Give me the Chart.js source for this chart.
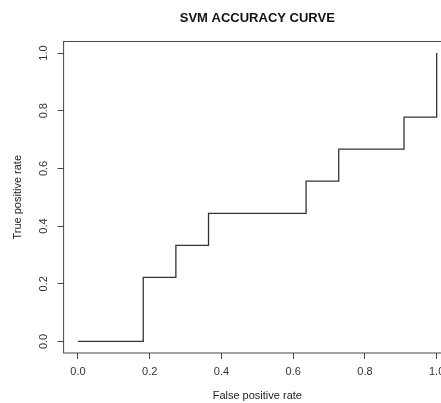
<!DOCTYPE html>
<html>
<head>
<meta charset="utf-8">
<script src="https://cdn.jsdelivr.net/npm/chart.js@4"></script>
<style>
    html, body { margin: 0; padding: 0; background: #fff; overflow: hidden; }
    canvas { display: block; }
</style>
</head>
<body>
<canvas id="miGrafica" width="514" height="403"></canvas>
<script>
// puntos de la curva ROC
const fpr = [0, 0.182, 0.273, 0.364, 0.636, 0.727, 0.909, 1.0];
const tpr = [0, 0.222, 0.333, 0.444, 0.556, 0.667, 0.778, 1.0];
const tickVals = [0, 0.2, 0.4, 0.6, 0.8, 1.0];

const titulo = 'SVM ACCURACY CURVE';
const xTitulo = 'False positive rate';
const yTitulo = 'True positive rate';

const fuente = "'Liberation Sans', Arial, sans-serif";

// caja del grafico, titulo y etiquetas del eje y giradas (estilo R)
const marco = {
    id: 'marco',
    afterDraw(chart) {
        const ctx = chart.ctx;
        const area = chart.chartArea;
        ctx.save();
        ctx.strokeStyle = '#444';
        ctx.lineWidth = 1;
        ctx.strokeRect(area.left, area.top, area.right - area.left, area.bottom - area.top);

        ctx.fillStyle = '#111';
        ctx.font = 'bold 13px ' + fuente;
        ctx.textAlign = 'center';
        ctx.textBaseline = 'alphabetic';
        ctx.fillText(titulo, (area.left + area.right) / 2, 22);

        const y = chart.scales.y;
        ctx.fillStyle = '#333';
        ctx.font = '11px ' + fuente;
        tickVals.forEach(v => {
            ctx.save();
            ctx.translate(46.5, y.getPixelForValue(v));
            ctx.rotate(-Math.PI / 2);
            ctx.fillText(v.toFixed(1), 0, 0);
            ctx.restore();
        });
        ctx.restore();
    }
};

const ctx = document.getElementById('miGrafica').getContext('2d');

window.myChart = new Chart(ctx, {
    type: 'line',
    data: {
        datasets: [{
            label: 'SVM',
            data: fpr.map((x, i) => ({ x: x, y: tpr[i] })),
            borderColor: '#333',
            borderWidth: 1.3,
            pointRadius: 0,
            stepped: true,
            fill: false,
        }],
    },
    options: {
        responsive: false,
        animation: false,
        layout: {
            padding: { left: 0, top: 41.5, right: 63, bottom: 0 },
        },
        plugins: {
            legend: { display: false },
            title: { display: false },
            tooltip: { enabled: false },
        },
        scales: {
            x: {
                type: 'linear',
                min: -0.04,
                max: 1.04,
                afterBuildTicks: (scale) => { scale.ticks = tickVals.map(v => ({ value: v })); },
                afterFit: (scale) => { scale.height = 50; },
                border: { display: false },
                grid: { drawOnChartArea: false, drawTicks: true, tickLength: 6, color: '#444' },
                ticks: {
                    autoSkip: false,
                    maxRotation: 0,
                    padding: 6,
                    color: '#333',
                    font: { family: fuente, size: 11 },
                    callback: (v) => Number(v).toFixed(1),
                },
                title: {
                    display: true,
                    text: xTitulo,
                    color: '#222',
                    font: { family: fuente, size: 11 },
                    padding: { top: 0, bottom: 0 },
                },
            },
            y: {
                type: 'linear',
                min: -0.04,
                max: 1.04,
                afterBuildTicks: (scale) => { scale.ticks = tickVals.map(v => ({ value: v })); },
                afterFit: (scale) => { scale.width = 63.6; },
                border: { display: false },
                grid: { drawOnChartArea: false, drawTicks: true, tickLength: 6, color: '#444' },
                ticks: { display: false },
                title: {
                    display: true,
                    text: yTitulo,
                    color: '#222',
                    font: { family: fuente, size: 11 },
                    padding: { top: 11.4, bottom: 0 },
                },
            },
        },
    },
    plugins: [marco],
});
</script>
</body>
</html>
